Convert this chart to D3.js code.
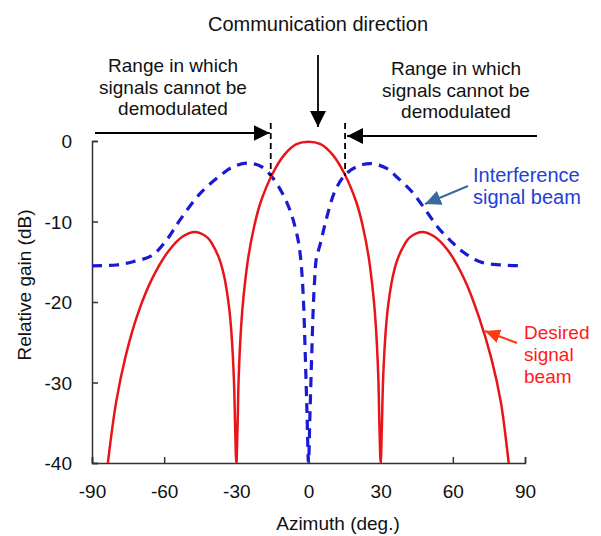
<!DOCTYPE html>
<html>
<head>
<meta charset="utf-8">
<script src="https://cdn.jsdelivr.net/npm/d3@7"></script>
<style>
  html, body { margin: 0; padding: 0; background: #fff; }
  svg { display: block; font-family: "Liberation Sans", Arial, sans-serif; }
</style>
</head>
<body>
<svg id="chart" width="601" height="536"></svg>
<script>
// ---- data ----
const desiredAz   = [-83.4, -80, -76, -71, -65, -58, -52, -47, -42, -40, -37, -35, -33, -32, -31, -30.5, -30,
                     -29.5, -29, -28, -27, -25, -22.5, -20, -15, -10, -5, 0, 5, 10, 15, 20, 22.5, 25, 27, 28, 29, 29.5, 30,
                     30.5, 31, 32, 33, 35, 37, 40, 42, 47, 52, 58, 65, 71, 76, 80, 83.2];
const desiredGain = [-40, -32.5, -26.7, -21.5, -17.1, -13.6, -11.8, -11.3, -12.0, -12.8, -14.7, -16.9, -20.7, -24, -29.7, -35.5, -40,
                     -35.5, -29.2, -23, -19.3, -14.4, -10.5, -7.7, -4.1, -1.7, -0.4, -0.1, -0.4, -1.7, -4.1, -7.7, -10.5, -14.4, -19.3, -23, -29.2, -35.5, -40,
                     -35.5, -29.7, -24, -20.7, -16.9, -14.7, -12.8, -12.0, -11.3, -11.8, -13.6, -17.3, -22, -27, -32.5, -40];

const interfAz    = [-90, -80, -73, -65, -59, -53.4, -45, -35.5, -31.3, -25.5, -19.5, -15.3, -10.5, -7, -4.2, -3.3,
                     -2.6, -2.0, -1.3, -0.6, 0, 0.6, 1.3, 2.0, 2.6, 3.3, 4.8, 7.5, 10.9, 15.2, 20, 25.6, 32.5, 36.8,
                     43, 48.5, 54, 58.8, 63, 71.3, 80, 90];
const interfGain  = [-15.5, -15.4, -15.0, -14.2, -12.3, -9.8, -6.5, -4.0, -3.2, -2.75, -3.2, -4.4, -6.7, -9.2, -12.5, -14.5,
                     -17, -20.5, -27, -34, -40, -34, -27, -20.5, -17, -14.5, -12.9, -9.6, -6.3, -4.2, -3.2, -2.8, -3.4, -4.5,
                     -6.3, -8.5, -10.8, -12.3, -13.5, -15.0, -15.4, -15.5];

const xTicks = [-90, -60, -30, 0, 30, 60, 90];
const yTicks = [0, -10, -20, -30, -40];

const leftRangeText  = ["Range in which", "signals cannot be", "demodulated"];
const rightRangeText = ["Range in which", "signals cannot be", "demodulated"];
const interfText  = ["Interference", "signal beam"];
const desiredText = ["Desired", "signal", "beam"];

// ---- layout ----
const svg = d3.select("#chart");
const x = d3.scaleLinear().domain([-90, 90]).range([92, 525]);
const y = d3.scaleLinear().domain([-40, 0]).range([463, 141]);
const FS = 19;
const axisColor = "#333";
const textColor = "#111";

const defs = svg.append("defs");
defs.append("clipPath").attr("id", "plotclip")
  .append("rect").attr("x", 92).attr("y", 125).attr("width", 435).attr("height", 338.5);

function marker(id, color, w, h) {
  defs.append("marker").attr("id", id)
    .attr("viewBox", `0 0 ${w} ${h}`).attr("refX", w).attr("refY", h / 2)
    .attr("markerWidth", w).attr("markerHeight", h)
    .attr("markerUnits", "userSpaceOnUse").attr("orient", "auto")
    .append("path").attr("d", `M0,0L${w},${h / 2}L0,${h}Z`).attr("fill", color);
}
marker("arrBlack", "#000", 16, 16);
marker("arrBlue", "#3b6a9c", 16, 15);
marker("arrRed", "#ff3a12", 15, 14);

// axes
const fmt = d => String(d);
const gx = svg.append("g").attr("transform", `translate(0,${y(-40)})`)
  .call(d3.axisBottom(x).tickValues(xTicks).tickFormat(fmt).tickSizeInner(-6).tickSizeOuter(-6).tickPadding(22));
const gy = svg.append("g").attr("transform", `translate(${x(-90)},0)`)
  .call(d3.axisLeft(y).tickValues(yTicks).tickFormat(fmt).tickSizeInner(-6).tickSizeOuter(-6).tickPadding(20));
[gx, gy].forEach(g => {
  g.selectAll("path, line").attr("stroke", axisColor).attr("stroke-width", 1.5);
  g.selectAll("text").attr("font-size", FS).attr("fill", textColor)
    .attr("font-family", '"Liberation Sans", Arial, sans-serif');
});
gy.selectAll("text").attr("dy", "0.35em");

// axis titles
svg.append("text").attr("x", 338).attr("y", 530).attr("text-anchor", "middle")
  .attr("font-size", FS).attr("fill", textColor).text("Azimuth (deg.)");
svg.append("text").attr("transform", "translate(31,285) rotate(-90)").attr("text-anchor", "middle")
  .attr("font-size", FS).attr("fill", textColor).text("Relative gain (dB)");

// curves
const plot = svg.append("g").attr("clip-path", "url(#plotclip)");
const line = d3.line().x(d => x(d[0])).y(d => y(d[1])).curve(d3.curveCatmullRom.alpha(0.5));

plot.append("path").datum(interfAz.map((a, i) => [a, interfGain[i]]))
  .attr("d", line).attr("fill", "none").attr("stroke", "#1a1ad2")
  .attr("stroke-width", 3.2).attr("stroke-dasharray", "10,7");

plot.append("path").datum(desiredAz.map((a, i) => [a, desiredGain[i]]))
  .attr("d", line).attr("fill", "none").attr("stroke", "#e8141a")
  .attr("stroke-width", 2.5);

// dashed boundary lines of the range
[-15.7, 15.2].forEach(a => {
  svg.append("line").attr("x1", x(a)).attr("x2", x(a)).attr("y1", 123).attr("y2", 176)
    .attr("stroke", "#000").attr("stroke-width", 1.8).attr("stroke-dasharray", "6,4");
});

// horizontal arrows
svg.append("line").attr("x1", 95).attr("y1", 133).attr("x2", x(-15.7) - 1).attr("y2", 133)
  .attr("stroke", "#000").attr("stroke-width", 1.8).attr("marker-end", "url(#arrBlack)");
svg.append("line").attr("x1", 537).attr("y1", 136).attr("x2", x(15.2) + 2).attr("y2", 136)
  .attr("stroke", "#000").attr("stroke-width", 1.8).attr("marker-end", "url(#arrBlack)");

// communication direction
svg.append("text").attr("x", 318).attr("y", 31).attr("text-anchor", "middle")
  .attr("font-size", 20).attr("fill", textColor).text("Communication direction");
svg.append("line").attr("x1", 318).attr("y1", 55).attr("x2", 318).attr("y2", 127)
  .attr("stroke", "#000").attr("stroke-width", 1.8).attr("marker-end", "url(#arrBlack)");

// text blocks
function block(lines, cx, baselines, color, anchor, fs) {
  lines.forEach((t, i) => {
    svg.append("text").attr("x", cx).attr("y", baselines[i]).attr("text-anchor", anchor)
      .attr("font-size", fs).attr("fill", color).text(t);
  });
}
block(leftRangeText, 173, [72, 93.5, 114.5], textColor, "middle", FS);
block(rightRangeText, 456, [75, 96.5, 117.5], textColor, "middle", FS);
block(interfText, 473, [182, 204], "#2340d8", "start", 20);
block(desiredText, 524, [339, 361, 383], "#ff1a1a", "start", FS);

// pointer arrows
svg.append("line").attr("x1", 468).attr("y1", 186).attr("x2", 425).attr("y2", 204)
  .attr("stroke", "#3b6a9c").attr("stroke-width", 2).attr("marker-end", "url(#arrBlue)");
svg.append("line").attr("x1", 517).attr("y1", 343).attr("x2", 485).attr("y2", 331)
  .attr("stroke", "#ff3a12").attr("stroke-width", 2).attr("marker-end", "url(#arrRed)");
</script>
</body>
</html>
